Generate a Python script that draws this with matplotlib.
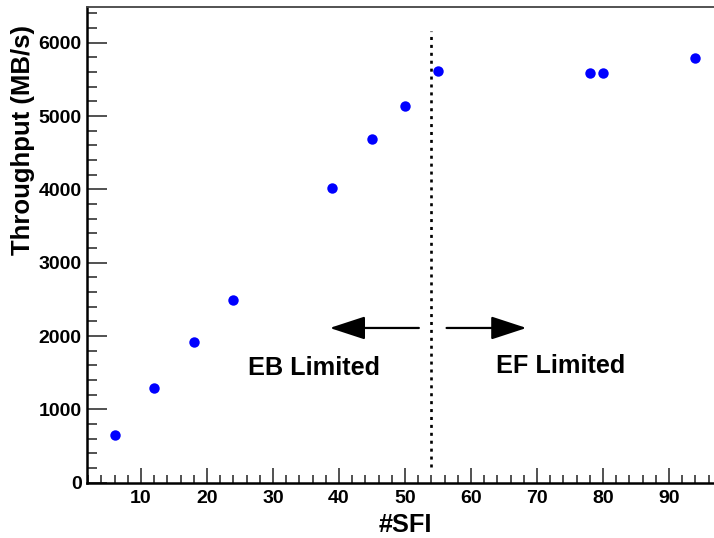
import matplotlib
matplotlib.use("Agg")
import matplotlib.pyplot as plt
from matplotlib.ticker import MultipleLocator

plt.rcParams['font.family'] = ['Liberation Sans', 'DejaVu Sans']
plt.rcParams['font.weight'] = 'bold'

# Data
sfi = [6, 12, 18, 24, 39, 45, 50, 55, 78, 80, 94]
throughput = [650, 1291, 1915, 2487, 4023, 4687, 5137, 5618, 5587, 5587, 5792]
divider_x = 54
eb_label = "EB Limited"
ef_label = "EF Limited"
x_label = "#SFI"
y_label = "Throughput (MB/s)"

W, H = 714, 538
fig = plt.figure(figsize=(W / 100, H / 100), dpi=100)
ax = fig.add_axes([86.7 / W, 1 - 482.7 / H, (W - 86.7) / W, (482.7 - 7) / H])

ax.plot(sfi, throughput, 'o', color='#0000ff', markersize=7.5, markeredgewidth=0)

# dotted divider
ax.plot([divider_x, divider_x], [218, 6160], color='black', lw=1.9,
        linestyle=(0, (1.15, 1.85)), solid_capstyle='butt', dash_capstyle='butt')

# arrows
arrow_kw = dict(arrowstyle='-|>,head_length=2.2,head_width=0.72', mutation_scale=10,
                lw=1.6, color='black', shrinkA=0, shrinkB=0)
ax.annotate('', xy=(38.6, 2110), xytext=(52.1, 2110), arrowprops=arrow_kw)
ax.annotate('', xy=(68.4, 2110), xytext=(56.3, 2110), arrowprops=arrow_kw)

ax.text(36.2, 1470, eb_label, ha='center', va='baseline', fontsize=18.2, fontweight='bold')
ax.text(73.6, 1495, ef_label, ha='center', va='baseline', fontsize=18.2, fontweight='bold')

ax.set_xlim(1.77, 96.82)
ax.set_ylim(0, 6487)

ax.xaxis.set_major_locator(MultipleLocator(10))
ax.xaxis.set_minor_locator(MultipleLocator(2))
ax.yaxis.set_major_locator(MultipleLocator(1000))
ax.yaxis.set_minor_locator(MultipleLocator(200))

ax.tick_params(axis='x', which='major', direction='in', length=11, width=1.1,
               labelsize=14, pad=5, color='#222222')
ax.tick_params(axis='x', which='minor', direction='in', length=5.5, width=1.1, color='#222222')
ax.tick_params(axis='y', which='major', direction='in', length=14.4, width=1.1,
               labelsize=14, pad=3.6, color='#222222')
ax.tick_params(axis='y', which='minor', direction='in', length=7.2, width=1.1, color='#222222')
for lbl in ax.get_xticklabels() + ax.get_yticklabels():
    lbl.set_fontweight('bold')

ax.spines['right'].set_visible(False)
ax.spines['left'].set_linewidth(1.8)
ax.spines['bottom'].set_linewidth(1.8)
ax.spines['top'].set_linewidth(1.3)
ax.spines['top'].set_color('#444444')

fig.text(23 / W, 1 - 140 / H, y_label, rotation=90, ha='center', va='center',
         fontsize=18.5, fontweight='bold')
fig.text(405 / W, 1 - 537 / H, x_label, ha='center', va='bottom',
         fontsize=18.3, fontweight='bold')

fig.savefig('out.png', dpi=100)
